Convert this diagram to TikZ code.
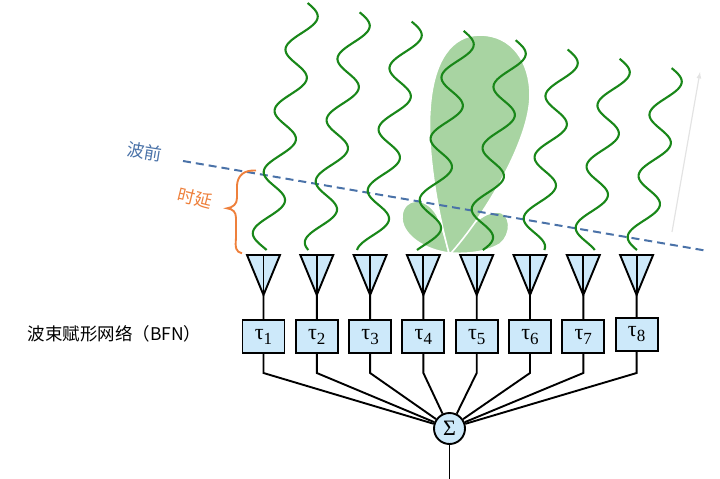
\documentclass[tikz,border=0pt]{standalone}
\usepackage{fontspec}
\newfontfamily\cjk{Noto Sans CJK SC}
\newfontfamily\serifgr{Liberation Serif}
\definecolor{wavegreen}{RGB}{25,135,25}
\definecolor{lobegreen}{RGB}{168,212,162}
\definecolor{frontblue}{RGB}{74,114,168}
\definecolor{delayorange}{RGB}{238,128,60}
\definecolor{boxblue}{RGB}{205,233,250}
\begin{document}
\begin{tikzpicture}[>=latex, x=1pt, y=-1pt,
    wave/.style={wavegreen, line width=2.1pt},
    lobe/.style={fill=lobegreen, draw=white, line width=1.6pt},
    ant/.style={fill=boxblue, draw=black, line width=1.9pt},
    wire/.style={line width=1.9pt},
    delay/.style={draw, fill=boxblue, line width=1.9pt, minimum width=42pt, minimum height=33pt, inner sep=0pt, font=\serifgr\fontsize{22}{22}\selectfont},
    sumnode/.style={circle, draw, fill=boxblue, line width=1.9pt, minimum size=31pt, inner sep=0pt, font=\serifgr\fontsize{22}{22}\selectfont},
    cjklabel/.style={font=\cjk\fontsize{17.5}{17.5}\selectfont}]
\useasboundingbox (0,0) rectangle (720,479);
% beam pattern
\draw[lobe] (449,253) .. controls (425,250) and (400,235) .. (402,215) .. controls (404,198) and (425,195) .. (437,215) .. controls (443,228) and (447,245) .. (449,253);
\draw[lobe] (451,253) .. controls (460,235) and (480,212) .. (497,212) .. controls (512,212) and (512,235) .. (500,244) .. controls (485,253) and (465,254) .. (451,253);
\draw[lobe] (449,253) .. controls (437,210) and (427,150) .. (430,110) .. controls (433,60) and (452,35) .. (480,35) .. controls (512,35) and (530,62) .. (530,95) .. controls (530,140) and (485,215) .. (451,253) -- cycle;
% wavefront and delay
\draw[frontblue, line width=2pt, dash pattern=on 8pt off 5pt] (183,161) -- (708,251);
\node[cjklabel, text=frontblue, rotate=-9] (front) at (145,152) {波前};
\node[cjklabel, text=delayorange, rotate=-14] (lag) at (195,198) {时延};
\draw[delayorange, line width=1.9pt] (256,170.5) .. controls (244,170) and (238,175) .. (237,185) -- (237,198) .. controls (237,204) and (233,207.5) .. (227,208.3) .. controls (233,209) and (236,212) .. (236,218) -- (236,238) .. controls (235,248) and (236,252) .. (242,253.3);
% incoming waves
\foreach \k in {0,...,7}
{
    \pgfmathsetmacro\ts{9.3*\k}
    \draw[wave] plot[domain=\ts:247, samples=150, smooth] ({52*\k+263+0.178*\x-13.3*sin(5.8824*(\x-2.7))}, {250+9.3*\k-\x});
}
\draw[->, gray!22, line width=1.2pt] (672,232) -- (700,72);
% array and BFN
\node[cjklabel, anchor=west] (bfn) at (24,334) {波束赋形网络（BFN）};
\node[sumnode] (sum) at (449.5,428.5) {Σ};
\coordinate (out) at (449.5,479);
\draw[wire] (sum) -- (out);
\foreach \i/\dy in {1/0,2/0,3/0,4/0,5/0,6/0,7/0,8/-2.4}
{
    \pgfmathsetmacro\xa{263.5+53.3*(\i-1)}
    \coordinate (tip\i) at (\xa,295);
    \coordinate (k\i) at (\xa,373);
    \draw[ant] (\xa-16.5,255) -- (\xa+16.5,255) -- (tip\i) -- cycle;
    \draw[wire] (\xa,255) -- (tip\i);
    \node[delay] (d\i) at (\xa,336.6+\dy) {τ\raisebox{-5pt}{\fontsize{17}{17}\selectfont\i}};
    \draw[wire] (tip\i) -- (d\i) -- (k\i) -- (sum);
}
\end{tikzpicture}
\end{document}
